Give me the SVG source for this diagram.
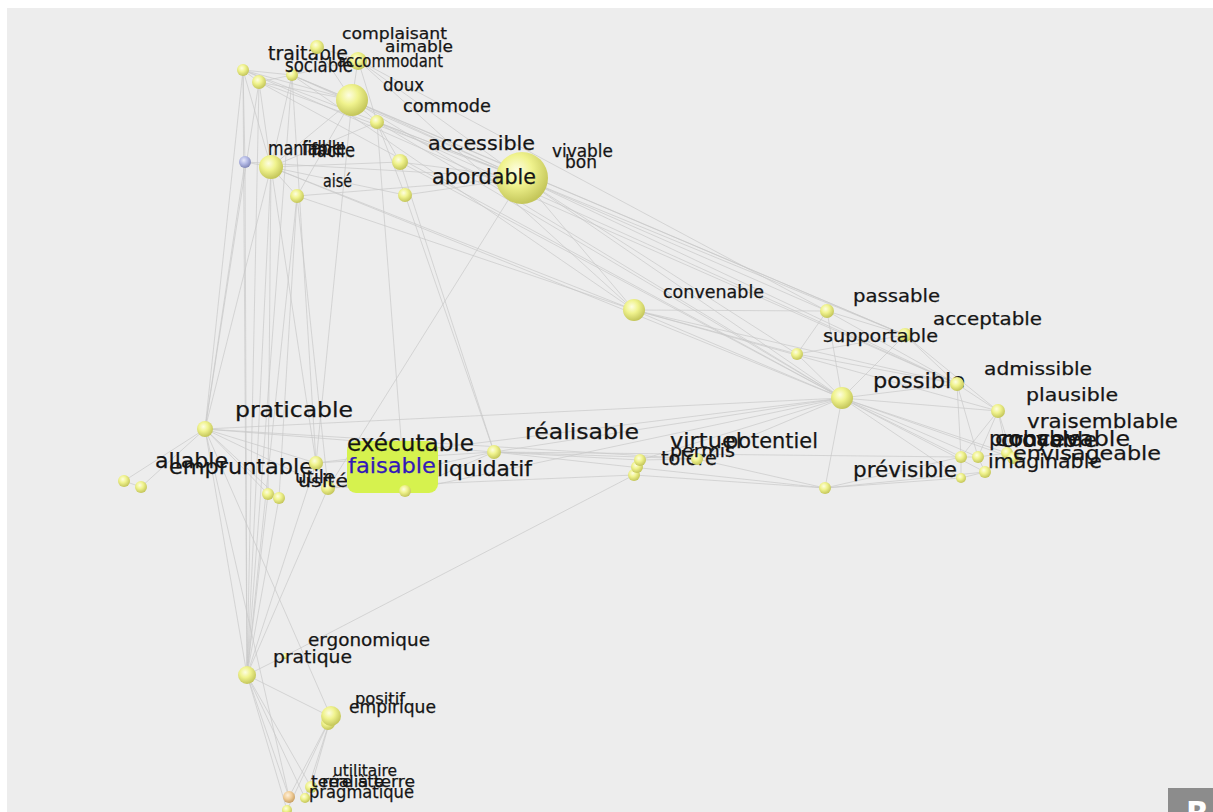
<svg xmlns="http://www.w3.org/2000/svg" width="1213" height="812" viewBox="0 0 1213 812">
<defs>
<radialGradient id="gy" cx="0.4" cy="0.35" r="0.65"><stop offset="0" stop-color="#fdfde2"/><stop offset="0.45" stop-color="#f0f38e"/><stop offset="1" stop-color="#c4c65a"/></radialGradient>
<radialGradient id="gb" cx="0.4" cy="0.35" r="0.65"><stop offset="0" stop-color="#e6e8fa"/><stop offset="0.5" stop-color="#b2b8e4"/><stop offset="1" stop-color="#8288b8"/></radialGradient>
<radialGradient id="go" cx="0.4" cy="0.35" r="0.65"><stop offset="0" stop-color="#fdf0dc"/><stop offset="0.5" stop-color="#f2cf9a"/><stop offset="1" stop-color="#c9a064"/></radialGradient>
<style>
text{font-family:"DejaVu Sans","Liberation Sans",sans-serif;fill:#151515;stroke:#151515;stroke-width:0.25}
.s{fill:url(#gy)}
.b{fill:url(#gb)}
.o{fill:url(#go)}
.e{fill:none;stroke:#c9c9c9;stroke-width:0.7}
</style>
</defs>
<rect x="0" y="0" width="1213" height="812" fill="#ffffff"/>
<rect x="7" y="8" width="1206" height="804" fill="#ededed"/>
<g id="connectors">
<path class="e" d="M243 70L259 82M243 70L292 75M243 70L352 100M259 82L292 75M259 82L352 100M292 75L358 60M292 75L352 100M317 47L358 60M317 47L352 100M358 60L352 100M358 60L377 122M352 100L377 122M243 70L271 167M259 82L271 167M292 75L271 167M352 100L271 167M377 122L271 167M245 162L271 167M243 70L245 162M271 167L297 196M352 100L297 196M377 122L400 162M377 122L405 195M271 167L400 162M271 167L405 195M400 162L522 178M352 100L522 178M377 122L522 178M358 60L522 178M292 75L522 178M259 82L522 178M243 70L522 178M297 196L522 178M405 195L522 178M245 162L522 178"/>
<path class="e" d="M352 100L842 398M522 178L842 398M522 178L634 310M522 178L957 384M522 178L827 311M522 178L905 335M377 122L842 398M358 60L634 310M292 75L634 310M259 82L842 398M271 167L842 398M400 162L842 398M522 178L797 354M352 100L905 335M377 122L957 384M243 70L957 384M292 75L905 335M358 60L827 311M271 167L634 310M297 196L634 310M634 310L842 398M634 310L797 354M634 310L957 384M634 310L827 311M634 310L998 411M827 311L797 354M827 311L842 398M827 311L905 335M827 311L957 384M905 335L842 398M905 335L797 354M905 335L957 384M905 335L998 411M797 354L842 398M797 354L957 384M842 398L957 384M842 398L998 411M842 398L961 457M842 398L978 457M842 398L1007 453M842 398L1013 458M842 398L961 478M842 398L985 472M957 384L998 411M957 384L961 457M957 384L978 457M998 411L961 457M998 411L978 457M998 411L1007 453M998 411L1013 458M961 457L978 457M978 457L1007 453M1007 453L1013 458M961 457L961 478M961 478L985 472M978 457L985 472M825 488L842 398M825 488L961 457M825 488L961 478M825 488L985 472"/>
<path class="e" d="M243 70L205 429M259 82L205 429M245 162L205 429M271 167L205 429M243 70L247 675M259 82L247 675M245 162L247 675M271 167L247 675M292 75L247 675M297 196L247 675M271 167L268 494M297 196L279 498M271 167L316 463M292 75L316 463M297 196L328 488M405 195L494 452M400 162L494 452M377 122L405 491M522 178L328 488M352 100L316 463"/>
<path class="e" d="M205 429L124 481M205 429L141 487M124 481L141 487M205 429L316 463M205 429L328 488M205 429L842 398M205 429L494 452M205 429L697 459M205 429L268 494M205 429L279 498M205 429L247 675M268 494L279 498M316 463L328 488M316 463L494 452M328 488L494 452M494 452L842 398M494 452L640 460M494 452L697 459M494 452L825 488M405 491L494 452M405 491L842 398M316 463L842 398M640 460L697 459M697 459L842 398M640 460L842 398M697 459L825 488M634 475L825 488M494 452L961 457M328 488L634 475M268 494L247 675M279 498L247 675M316 463L247 675M328 488L247 675M285 656L634 475"/>
<path class="e" d="M247 675L285 656M247 675L331 717M247 675L311 787M247 675L305 798M247 675L289 797M247 675L287 810M331 717L311 787M331 717L305 798M331 717L289 797M331 717L287 810M311 787L305 798M205 429L289 797M205 429L331 717"/>
</g>
<g id="n-b"><circle class="s" cx="259" cy="82" r="7"/></g>
<g id="n-traitable"><circle class="s" cx="243" cy="70" r="6"/><text x="268" y="60" font-size="20" textLength="80" lengthAdjust="spacingAndGlyphs">traitable</text></g>
<g id="n-complaisant"><circle class="s" cx="317" cy="47" r="7"/><text x="342" y="39" font-size="16" textLength="105" lengthAdjust="spacingAndGlyphs">complaisant</text></g>
<g id="n-aimable"><text x="385" y="52" font-size="16" textLength="68" lengthAdjust="spacingAndGlyphs">aimable</text></g>
<g id="n-accommodant"><circle class="s" cx="358" cy="61" r="9"/><text x="337" y="67" font-size="17" textLength="106" lengthAdjust="spacingAndGlyphs">accommodant</text></g>
<g id="n-sociable"><circle class="s" cx="292" cy="75" r="6"/><text x="285" y="72" font-size="19" textLength="68" lengthAdjust="spacingAndGlyphs">sociable</text></g>
<g id="n-doux"><circle class="s" cx="352" cy="100" r="16"/><text x="383" y="91" font-size="17" textLength="41" lengthAdjust="spacingAndGlyphs">doux</text></g>
<g id="n-commode"><circle class="s" cx="377" cy="122" r="7"/><text x="403" y="112" font-size="17" textLength="88" lengthAdjust="spacingAndGlyphs">commode</text></g>
<g id="n-maniable"><circle class="b" cx="245" cy="162" r="6"/><text x="268" y="155" font-size="19" textLength="74" lengthAdjust="spacingAndGlyphs">maniable</text></g>
<g id="n-fiable"><text x="302" y="155" font-size="19" textLength="44" lengthAdjust="spacingAndGlyphs">fiable</text></g>
<g id="n-facile"><circle class="s" cx="271" cy="167" r="12"/><text x="311" y="157" font-size="19" textLength="44" lengthAdjust="spacingAndGlyphs">facile</text></g>
<g id="n-aise"><circle class="s" cx="297" cy="196" r="7"/><text x="323" y="187" font-size="17" textLength="29" lengthAdjust="spacingAndGlyphs">aisé</text></g>
<g id="n-accessible"><circle class="s" cx="400" cy="162" r="8"/><text x="428" y="150" font-size="20" textLength="107" lengthAdjust="spacingAndGlyphs">accessible</text></g>
<g id="n-l"><circle class="s" cx="405" cy="195" r="7"/></g>
<g id="n-abordable"><circle class="s" cx="522" cy="178" r="26"/><text x="432" y="184" font-size="21" textLength="104" lengthAdjust="spacingAndGlyphs">abordable</text></g>
<g id="n-vivable"><text x="552" y="157" font-size="17" textLength="61" lengthAdjust="spacingAndGlyphs">vivable</text></g>
<g id="n-bon"><text x="565" y="168" font-size="17" textLength="32" lengthAdjust="spacingAndGlyphs">bon</text></g>
<g id="n-convenable"><circle class="s" cx="634" cy="310" r="11"/><text x="663" y="298" font-size="17" textLength="101" lengthAdjust="spacingAndGlyphs">convenable</text></g>
<g id="n-passable"><circle class="s" cx="827" cy="311" r="7"/><text x="853" y="302" font-size="18" textLength="87" lengthAdjust="spacingAndGlyphs">passable</text></g>
<g id="n-acceptable"><circle class="s" cx="905" cy="335" r="7"/><text x="933" y="325" font-size="18" textLength="109" lengthAdjust="spacingAndGlyphs">acceptable</text></g>
<g id="n-supportable"><circle class="s" cx="797" cy="354" r="6"/><text x="823" y="342" font-size="18" textLength="115" lengthAdjust="spacingAndGlyphs">supportable</text></g>
<g id="n-possible"><circle class="s" cx="842" cy="398" r="11"/><text x="873" y="388" font-size="21" textLength="92" lengthAdjust="spacingAndGlyphs">possible</text></g>
<g id="n-admissible"><circle class="s" cx="957" cy="384" r="7"/><text x="984" y="375" font-size="18" textLength="108" lengthAdjust="spacingAndGlyphs">admissible</text></g>
<g id="n-plausible"><circle class="s" cx="998" cy="411" r="7"/><text x="1026" y="401" font-size="18" textLength="92" lengthAdjust="spacingAndGlyphs">plausible</text></g>
<g id="n-vraisemblable"><circle class="s" cx="961" cy="457" r="6"/><text x="1027" y="428" font-size="20" textLength="151" lengthAdjust="spacingAndGlyphs">vraisemblable</text></g>
<g id="n-probable"><circle class="s" cx="978" cy="457" r="6"/><text x="989" y="446" font-size="21" textLength="92" lengthAdjust="spacingAndGlyphs">probable</text></g>
<g id="n-concevable"><circle class="s" cx="1007" cy="453" r="6"/><text x="995" y="446" font-size="21" textLength="135" lengthAdjust="spacingAndGlyphs">concevable</text></g>
<g id="n-croyable"><text x="1001" y="447" font-size="21" textLength="96" lengthAdjust="spacingAndGlyphs">croyable</text></g>
<g id="n-envisageable"><circle class="s" cx="1013" cy="458" r="6"/><text x="1013" y="460" font-size="20" textLength="148" lengthAdjust="spacingAndGlyphs">envisageable</text></g>
<g id="n-imaginable"><circle class="s" cx="985" cy="472" r="6"/><circle class="s" cx="961" cy="478" r="5"/><text x="988" y="468" font-size="20" textLength="114" lengthAdjust="spacingAndGlyphs">imaginable</text></g>
<g id="n-previsible"><circle class="s" cx="825" cy="488" r="6"/><text x="853" y="477" font-size="21" textLength="104" lengthAdjust="spacingAndGlyphs">prévisible</text></g>
<g id="n-praticable"><circle class="s" cx="205" cy="429" r="8"/><text x="235" y="417" font-size="21" textLength="118" lengthAdjust="spacingAndGlyphs">praticable</text></g>
<g id="n-allable"><circle class="s" cx="124" cy="481" r="6"/><circle class="s" cx="141" cy="487" r="6"/><text x="155" y="468" font-size="21" textLength="73" lengthAdjust="spacingAndGlyphs">allable</text></g>
<g id="n-empruntable"><circle class="s" cx="268" cy="494" r="6"/><circle class="s" cx="279" cy="498" r="6"/><text x="169" y="474" font-size="21" textLength="144" lengthAdjust="spacingAndGlyphs">empruntable</text></g>
<g id="n-utile"><circle class="s" cx="316" cy="463" r="7"/><text x="295" y="483" font-size="17" textLength="40" lengthAdjust="spacingAndGlyphs">utile</text></g>
<g id="n-usite"><circle class="s" cx="328" cy="488" r="7"/><text x="298" y="487" font-size="17" textLength="50" lengthAdjust="spacingAndGlyphs">usité</text></g>
<g id="n-faisable"><rect x="347" y="441" width="91" height="52" rx="9" fill="#d6f24e"/><circle class="s" cx="405" cy="491" r="6"/><text x="348" y="473" font-size="21" textLength="88" lengthAdjust="spacingAndGlyphs" style="fill:#3318b8;stroke:#3318b8">faisable</text></g>
<g id="n-executable"><text x="347" y="451" font-size="23" textLength="127" lengthAdjust="spacingAndGlyphs">exécutable</text></g>
<g id="n-liquidatif"><circle class="s" cx="494" cy="452" r="7"/><text x="437" y="476" font-size="21" textLength="95" lengthAdjust="spacingAndGlyphs">liquidatif</text></g>
<g id="n-realisable"><text x="525" y="439" font-size="22" textLength="114" lengthAdjust="spacingAndGlyphs">réalisable</text></g>
<g id="n-tolere"><circle class="s" cx="634" cy="475" r="6"/><circle class="s" cx="637" cy="467" r="6"/><circle class="s" cx="640" cy="460" r="6"/><text x="661" y="465" font-size="19" textLength="56" lengthAdjust="spacingAndGlyphs">toléré</text></g>
<g id="n-permis"><circle class="s" cx="697" cy="459" r="6"/><text x="670" y="457" font-size="17" textLength="65" lengthAdjust="spacingAndGlyphs">permis</text></g>
<g id="n-virtuel"><text x="670" y="448" font-size="21" textLength="72" lengthAdjust="spacingAndGlyphs">virtuel</text></g>
<g id="n-potentiel"><text x="725" y="448" font-size="21" textLength="93" lengthAdjust="spacingAndGlyphs">potentiel</text></g>
<g id="n-ergonomique"><circle class="s" cx="285" cy="656" r="3"/><text x="308" y="646" font-size="17" textLength="122" lengthAdjust="spacingAndGlyphs">ergonomique</text></g>
<g id="n-pratique"><circle class="s" cx="247" cy="675" r="9"/><text x="273" y="663" font-size="17" textLength="79" lengthAdjust="spacingAndGlyphs">pratique</text></g>
<g id="n-positif"><circle class="s" cx="328" cy="723" r="7"/><text x="355" y="704" font-size="16" textLength="50" lengthAdjust="spacingAndGlyphs">positif</text></g>
<g id="n-empirique"><circle class="s" cx="331" cy="716" r="10"/><text x="349" y="713" font-size="17" textLength="87" lengthAdjust="spacingAndGlyphs">empirique</text></g>
<g id="n-utilitaire"><circle class="s" cx="311" cy="787" r="6"/><text x="333" y="776" font-size="16" textLength="64" lengthAdjust="spacingAndGlyphs">utilitaire</text></g>
<g id="n-terre"><circle class="s" cx="305" cy="798" r="5"/><text x="311" y="787" font-size="16" textLength="104" lengthAdjust="spacingAndGlyphs">terre à terre</text></g>
<g id="n-realiste"><circle class="o" cx="289" cy="797" r="6"/><text x="322" y="787" font-size="16" textLength="62" lengthAdjust="spacingAndGlyphs">réaliste</text></g>
<g id="n-pragmatique"><circle class="s" cx="287" cy="810" r="5"/><text x="309" y="798" font-size="17" textLength="105" lengthAdjust="spacingAndGlyphs">pragmatique</text></g>
<g id="logo"><rect x="1168" y="788" width="45" height="24" fill="#8c8c8c"/><text x="1186" y="823" font-size="30" font-weight="bold" style="fill:#ffffff;stroke:none">R</text></g>
</svg>
